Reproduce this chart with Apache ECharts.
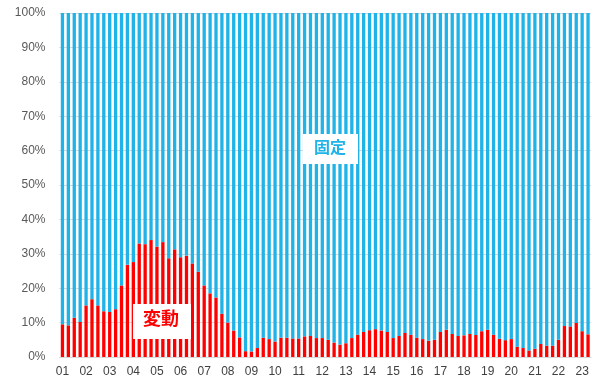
<!DOCTYPE html>
<html>
<head>
<meta charset="utf-8">
<script src="https://cdn.jsdelivr.net/npm/echarts@6/dist/echarts.min.js"></script>
<style>
html,body{margin:0;padding:0;background:#fff;}
#chart{width:595px;height:385px;}
</style>
</head>
<body>
<div id="chart"></div>
<script>
// Year tick labels (each year has 4 quarterly bars)
const yearLabels = ["01","02","03","04","05","06","07","08","09","10","11","12","13","14","15","16","17","18","19","20","21","22","23"];
// Share of variable-rate (変動), percent, per quarter
const variableShare = [
  9.5, 9.2, 11.4, 10.2,
  15.0, 16.8, 15.0, 13.3,
  13.1, 13.9, 20.8, 26.8,
  27.6, 33.0, 32.8, 34.0,
  32.1, 33.4, 28.7, 31.3,
  29.0, 29.4, 27.2, 24.8,
  20.8, 18.5, 17.3, 12.6,
  10.0, 7.7, 5.7, 1.7,
  1.6, 2.6, 5.6, 5.2,
  4.5, 5.6, 5.6, 5.4,
  5.4, 6.0, 6.1, 5.5,
  5.5, 5.0, 4.2, 3.6,
  4.0, 5.5, 6.5, 7.3,
  7.8, 8.1, 7.7, 7.3,
  5.5, 6.1, 7.0, 6.5,
  5.6, 5.2, 4.7, 5.0,
  7.3, 7.9, 6.7, 6.1,
  6.3, 6.7, 6.4, 7.5,
  7.9, 6.5, 5.3, 4.9,
  5.2, 3.0, 2.6, 1.9,
  2.4, 3.8, 3.3, 3.3,
  5.0, 9.0, 8.9, 9.9,
  7.5, 6.6
];
const seriesNames = ["変動", "固定"];

const categories = variableShare.map((v, i) => yearLabels[Math.floor(i / 4)] + "-" + (i % 4 + 1));
const fixedShare = variableShare.map(v => +(100 - v).toFixed(1));

const chart = echarts.init(document.getElementById('chart'), null, {renderer: 'canvas'});
chart.setOption({
  animation: false,
  backgroundColor: '#ffffff',
  grid: {left: 59.5, right: 4, top: 13, bottom: 28, containLabel: false},
  xAxis: {
    type: 'category',
    data: categories,
    axisLine: {show: true, lineStyle: {color: '#d9d9d9'}},
    axisTick: {show: false},
    axisLabel: {
      interval: 3,
      margin: 9,
      fontSize: 12,
      color: '#404040',
      fontFamily: 'Liberation Sans',
      formatter: v => v.split('-')[0]
    }
  },
  yAxis: {
    type: 'value',
    min: 0, max: 100, interval: 10,
    axisLine: {show: false},
    axisTick: {show: false},
    splitLine: {lineStyle: {color: '#d9d9d9', width: 1}},
    axisLabel: {
      formatter: '{value}%',
      margin: 14,
      fontSize: 12,
      color: '#595959',
      fontFamily: 'Liberation Sans'
    }
  },
  series: [
    {
      name: seriesNames[0], type: 'bar', stack: 'total',
      data: variableShare, barWidth: '56%',
      itemStyle: {color: '#ff0000'}
    },
    {
      name: seriesNames[1], type: 'bar', stack: 'total',
      data: fixedShare, barWidth: '56%',
      itemStyle: {color: '#1fb3e8'}
    }
  ],
  graphic: [
    {
      type: 'rect', z: 100, zlevel: 1, left: 303, top: 134,
      shape: {width: 55, height: 30}, style: {fill: '#ffffff'}
    },
    {
      type: 'text', z: 101, zlevel: 1, left: 314, top: 139,
      style: {text: seriesNames[1], fill: '#1fb3e8', font: 'bold 16px "Noto Sans CJK JP"'}
    },
    {
      type: 'rect', z: 100, zlevel: 1, left: 133, top: 304,
      shape: {width: 58, height: 35}, style: {fill: '#ffffff'}
    },
    {
      type: 'text', z: 101, zlevel: 1, left: 143, top: 309,
      style: {text: seriesNames[0], fill: '#ff0000', font: 'bold 18px "Noto Sans CJK JP"'}
    }
  ]
});
</script>
</body>
</html>
